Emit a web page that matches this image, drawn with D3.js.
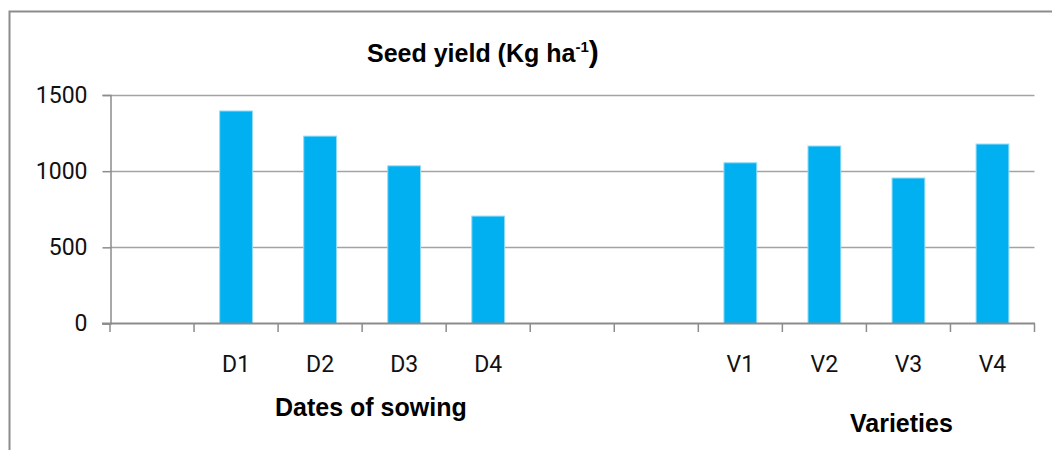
<!DOCTYPE html>
<html>
<head>
<meta charset="utf-8">
<script src="https://cdn.jsdelivr.net/npm/d3@7"></script>
<style>
  body { margin: 0; background: #fff; }
  svg { display: block; }
</style>
</head>
<body>
<svg id="chart" width="1052" height="450"></svg>
<script>
// chart data
var categories = ["", "D1", "D2", "D3", "D4", "", "", "V1", "V2", "V3", "V4"];
var seedYield = [null, 1395, 1230, 1035, 705, null, null, 1055, 1165, 955, 1178];
var yTicks = [0, 500, 1000, 1500];

var svg = d3.select("#chart");

// outer frame (right and bottom edges fall outside the picture)
svg.append("rect")
    .attr("x", 9.5).attr("y", 11.5)
    .attr("width", 1050).attr("height", 460)
    .attr("fill", "none")
    .attr("stroke", "#8c8c8c")
    .attr("stroke-width", 2);

var x = d3.scaleBand()
    .domain(d3.range(categories.length))
    .range([110, 1034.5])
    .padding(0);

var y = d3.scaleLinear()
    .domain([0, 1500])
    .range([323.5, 95]);

// gridlines
svg.append("g").selectAll("line")
    .data(yTicks.filter(function(d) { return d > 0; }))
    .enter().append("line")
    .attr("x1", 110).attr("x2", 1034.5)
    .attr("y1", function(d) { return Math.round(y(d)) + 0.5; })
    .attr("y2", function(d) { return Math.round(y(d)) + 0.5; })
    .attr("stroke", "#a3a3a3")
    .attr("stroke-width", 1.5);

// bars
var barW = x.bandwidth() * 0.39;
svg.append("g").selectAll("rect")
    .data(seedYield.map(function(v, i) { return {i: i, v: v}; }).filter(function(d) { return d.v != null; }))
    .enter().append("rect")
    .attr("x", function(d) { return x(d.i) + (x.bandwidth() - barW) / 2; })
    .attr("y", function(d) { return y(d.v); })
    .attr("width", barW)
    .attr("height", function(d) { return y(0) - y(d.v); })
    .attr("fill", "#00b0f0")
    .attr("stroke", "#8fdaf7")
    .attr("stroke-width", 1);

// y axis
var yAxis = svg.append("g")
    .attr("transform", "translate(110.5,0)")
    .call(d3.axisLeft(y).tickValues(yTicks).tickSize(8).tickPadding(15).tickFormat(d3.format("d")));
yAxis.select(".domain").attr("stroke", "#8c8c8c").attr("stroke-width", 1.5);
yAxis.selectAll(".tick line").attr("stroke", "#8c8c8c").attr("stroke-width", 1.5);
yAxis.selectAll(".tick text")
    .attr("font-family", "Roboto, sans-serif")
    .attr("font-size", 23)
    .attr("fill", "#111");

// x axis line and category boundary ticks
svg.append("line")
    .attr("x1", 102).attr("x2", 1035)
    .attr("y1", y(0)).attr("y2", y(0))
    .attr("stroke", "#8c8c8c")
    .attr("stroke-width", 2);

svg.append("g").selectAll("line")
    .data(d3.range(categories.length + 1))
    .enter().append("line")
    .attr("x1", function(i) { return i < categories.length ? x(i) : x.range()[1]; })
    .attr("x2", function(i) { return i < categories.length ? x(i) : x.range()[1]; })
    .attr("y1", y(0)).attr("y2", y(0) + 8.5)
    .attr("stroke", "#8c8c8c")
    .attr("stroke-width", 1.5);

svg.append("g").selectAll("text")
    .data(categories.map(function(c, i) { return {c: c, i: i}; }).filter(function(d) { return d.c !== ""; }))
    .enter().append("text")
    .attr("x", function(d) { return x(d.i) + x.bandwidth() / 2; })
    .attr("y", 372)
    .attr("text-anchor", "middle")
    .attr("font-family", "Roboto, sans-serif")
    .attr("font-size", 23)
    .attr("fill", "#111")
    .text(function(d) { return d.c; });

// titles
var title = svg.append("text")
    .attr("x", 367).attr("y", 62)
    .attr("font-family", "'Liberation Sans', Arial, sans-serif")
    .attr("font-weight", "bold")
    .attr("font-size", 25)
    .attr("fill", "#000");
title.append("tspan").text("Seed yield (Kg ha");
title.append("tspan").attr("font-size", 15).attr("dy", -10).text("-1");
title.append("tspan").attr("font-size", 30).attr("dy", 10).text(")");

svg.append("text")
    .attr("x", 275).attr("y", 416)
    .attr("font-family", "'Liberation Sans', Arial, sans-serif")
    .attr("font-weight", "bold")
    .attr("font-size", 25)
    .text("Dates of sowing");

svg.append("text")
    .attr("x", 850).attr("y", 432)
    .attr("font-family", "'Liberation Sans', Arial, sans-serif")
    .attr("font-weight", "bold")
    .attr("font-size", 25)
    .text("Varieties");
</script>
</body>
</html>
